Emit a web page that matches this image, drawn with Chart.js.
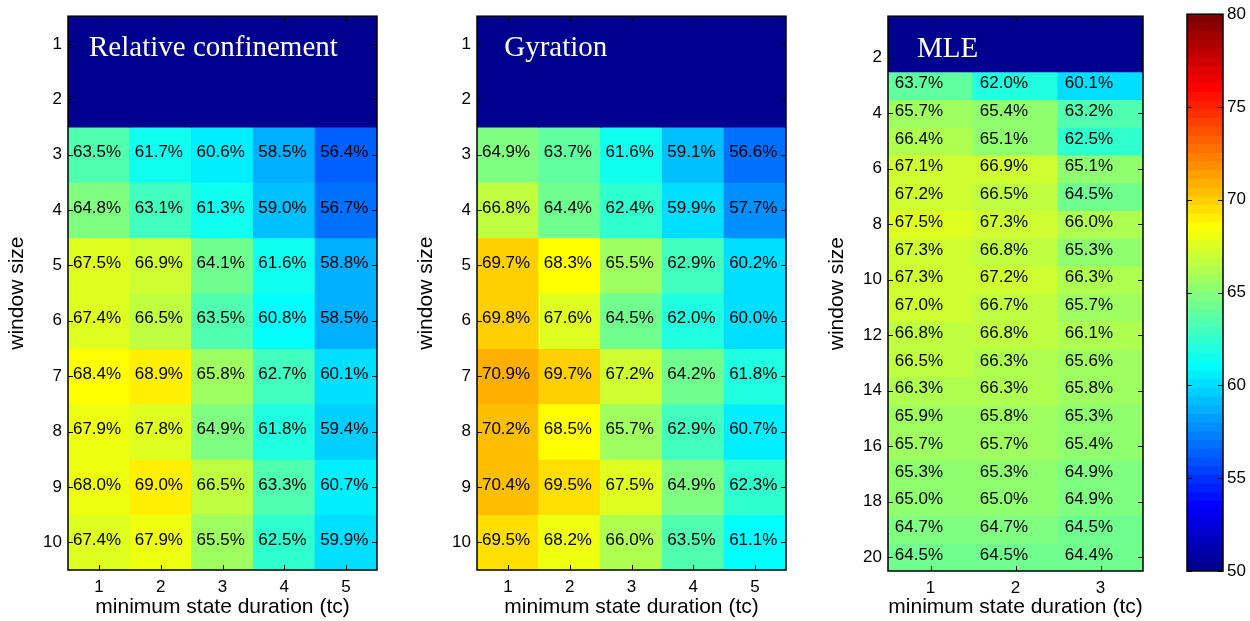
<!DOCTYPE html>
<html>
<head>
<meta charset="utf-8">
<title>window size vs minimum state duration</title>
<script src="https://cdn.jsdelivr.net/npm/chart.js@4/dist/chart.umd.min.js"></script>
<style>
  body { margin: 0; background: #fff; width: 1250px; height: 621px; position: relative; overflow: hidden; }
  .panel { position: absolute; top: 0; height: 621px; }
</style>
</head>
<body>
<div class="panel" style="left:0px;width:400px"><canvas id="rc-chart"></canvas></div>
<div class="panel" style="left:409px;width:400px"><canvas id="gyr-chart"></canvas></div>
<div class="panel" style="left:820px;width:343px"><canvas id="mle-chart"></canvas></div>
<div class="panel" style="left:1150px;width:100px"><canvas id="colorbar"></canvas></div>
<script>
/* Data: rows = window size, columns = minimum state duration (tc) */
let rcColumns = ['1', '2', '3', '4', '5']
let rcRows = [1, 2, 3, 4, 5, 6, 7, 8, 9, 10]
let rcValues = [
    [null, null, null, null, null],
    [null, null, null, null, null],
    [63.5, 61.7, 60.6, 58.5, 56.4],
    [64.8, 63.1, 61.3, 59.0, 56.7],
    [67.5, 66.9, 64.1, 61.6, 58.8],
    [67.4, 66.5, 63.5, 60.8, 58.5],
    [68.4, 68.9, 65.8, 62.7, 60.1],
    [67.9, 67.8, 64.9, 61.8, 59.4],
    [68.0, 69.0, 66.5, 63.3, 60.7],
    [67.4, 67.9, 65.5, 62.5, 59.9]
]

let gyrColumns = ['1', '2', '3', '4', '5']
let gyrRows = [1, 2, 3, 4, 5, 6, 7, 8, 9, 10]
let gyrValues = [
    [null, null, null, null, null],
    [null, null, null, null, null],
    [64.9, 63.7, 61.6, 59.1, 56.6],
    [66.8, 64.4, 62.4, 59.9, 57.7],
    [69.7, 68.3, 65.5, 62.9, 60.2],
    [69.8, 67.6, 64.5, 62.0, 60.0],
    [70.9, 69.7, 67.2, 64.2, 61.8],
    [70.2, 68.5, 65.7, 62.9, 60.7],
    [70.4, 69.5, 67.5, 64.9, 62.3],
    [69.5, 68.2, 66.0, 63.5, 61.1]
]

let mleColumns = ['1', '2', '3']
let mleRows = [1, 2, 3, 4, 5, 6, 7, 8, 9, 10, 11, 12, 13, 14, 15, 16, 17, 18, 19, 20]
let mleValues = [
    [null, null, null],
    [null, null, null],
    [63.7, 62.0, 60.1],
    [65.7, 65.4, 63.2],
    [66.4, 65.1, 62.5],
    [67.1, 66.9, 65.1],
    [67.2, 66.5, 64.5],
    [67.5, 67.3, 66.0],
    [67.3, 66.8, 65.3],
    [67.3, 67.2, 66.3],
    [67.0, 66.7, 65.7],
    [66.8, 66.8, 66.1],
    [66.5, 66.3, 65.6],
    [66.3, 66.3, 65.8],
    [65.9, 65.8, 65.3],
    [65.7, 65.7, 65.4],
    [65.3, 65.3, 64.9],
    [65.0, 65.0, 64.9],
    [64.7, 64.7, 64.5],
    [64.5, 64.5, 64.4]
]

// tick labels
let rcTicks = [1, 2, 3, 4, 5, 6, 7, 8, 9, 10]
let mleTicks = [2, 4, 6, 8, 10, 12, 14, 16, 18, 20]
let colorbarTicks = [50, 55, 60, 65, 70, 75, 80]

// colour limits of the map
let cMin = 50
let cMax = 80
let cLevels = 64

let sansFont = "'Liberation Sans', Arial, Helvetica, sans-serif"
let serifFont = "'Liberation Serif', 'Times New Roman', serif"

Chart.defaults.animation = false
Chart.defaults.events = []
Chart.defaults.plugins.legend.display = false
Chart.defaults.plugins.tooltip.enabled = false

// matlab jet colormap, 64 levels
function jetColor(value) {
    let i = 1
    if (value != null) {
        i = Math.floor(cLevels * (value - cMin) / (cMax - cMin)) + 1
        i = Math.min(cLevels, Math.max(1, i))
    }
    let ramp = (a, b) => Math.max(0, Math.min(1, (i - a) / 16, (b - i) / 16))
    let r = Math.round(255 * ramp(24, 72))
    let g = Math.round(255 * ramp(8, 56))
    let b = Math.round(255 * ramp(-8, 40))
    return 'rgb(' + r + ',' + g + ',' + b + ')'
}

// box round the plot with small ticks pointing inwards
let matlabBox = {
    id: 'matlabBox',
    afterDraw(chart) {
        let ctx = chart.ctx
        let a = chart.chartArea
        let xs = chart.scales.x
        let ys = chart.scales.y
        let len = 5
        ctx.save()
        ctx.strokeStyle = '#000'
        ctx.lineWidth = 1
        ctx.beginPath()
        ys.ticks.forEach(t => {
            let y = Math.round(ys.getPixelForValue(t.value)) + 0.5
            ctx.moveTo(a.left, y); ctx.lineTo(a.left + len, y)
            ctx.moveTo(a.right, y); ctx.lineTo(a.right - len, y)
        })
        if (xs.options.display) {
            xs.ticks.forEach((t, i) => {
                let x = Math.round(xs.getPixelForTick(i)) + 0.5
                ctx.moveTo(x, a.top); ctx.lineTo(x, a.top + len)
                ctx.moveTo(x, a.bottom); ctx.lineTo(x, a.bottom - len)
            })
        }
        ctx.stroke()
        ctx.lineWidth = 1.5
        ctx.strokeRect(a.left, a.top, a.right - a.left, a.bottom - a.top)
        ctx.restore()
    }
}

// percentage in every cell and the panel name
let cellLabels = {
    id: 'cellLabels',
    afterDatasetsDraw(chart, args, opts) {
        let ctx = chart.ctx
        let xs = chart.scales.x
        let ys = chart.scales.y
        ctx.save()
        ctx.fillStyle = '#000'
        ctx.font = '17px ' + sansFont
        ctx.textAlign = 'left'
        ctx.textBaseline = 'middle'
        opts.values.forEach((rowValues, r) => {
            rowValues.forEach((v, c) => {
                if (v == null) return
                let x = xs.getPixelForValue(c - 0.42)
                let y = ys.getPixelForValue(opts.rows[r]) - 2
                ctx.fillText(v.toFixed(1) + '%', x, y)
            })
        })
        ctx.fillStyle = '#fff'
        ctx.font = '29px ' + serifFont
        ctx.textBaseline = 'alphabetic'
        ctx.fillText(opts.title, xs.getPixelForValue(opts.titleX), ys.getPixelForValue(opts.titleY))
        ctx.restore()
    }
}

function makeHeatmap(canvasId, columns, rows, values, yTicks, title, titleX, titleY, rightPad, xHeight) {
    let datasets = rows.map((row, r) => ({
        data: columns.map(() => [row - 0.5, row + 0.5]),
        backgroundColor: values[r].map(jetColor),
        grouped: false,
        barPercentage: 1,
        categoryPercentage: 1,
        borderWidth: 0,
        inflateAmount: 0.5
    }))

    return new Chart(document.getElementById(canvasId), {
        type: 'bar',
        data: { labels: columns, datasets: datasets },
        plugins: [cellLabels, matlabBox],
        options: {
            responsive: true,
            maintainAspectRatio: false,
            devicePixelRatio: 1,
            layout: { padding: { left: 0, top: 14, right: rightPad, bottom: 0 } },
            plugins: {
                cellLabels: { values: values, rows: rows, title: title, titleX: titleX, titleY: titleY }
            },
            scales: {
                x: {
                    grid: { display: false, drawTicks: false },
                    border: { display: false },
                    ticks: { color: '#000', font: { family: sansFont, size: 17 }, padding: 7, maxRotation: 0 },
                    title: {
                        display: true, text: 'minimum state duration (tc)', color: '#000',
                        font: { family: sansFont, size: 21 }, padding: { top: 0, bottom: 1 }
                    },
                    afterFit: s => { s.height = xHeight }
                },
                y: {
                    type: 'linear',
                    reverse: true,
                    min: 0.5,
                    max: rows.length + 0.5,
                    afterBuildTicks: s => { s.ticks = yTicks.map(v => ({ value: v })) },
                    grid: { display: false, drawTicks: false },
                    border: { display: false },
                    ticks: { color: '#000', font: { family: sansFont, size: 17 }, padding: 6, autoSkip: false },
                    title: {
                        display: true, text: 'window size', color: '#000',
                        font: { family: sansFont, size: 21 }, padding: { top: 5, bottom: 0 }
                    },
                    afterFit: s => { s.width = 68 }
                }
            }
        }
    })
}

let rcChart = makeHeatmap('rc-chart', rcColumns, rcRows, rcValues, rcTicks, 'Relative confinement', -0.16, 1.22, 23, 51)
let gyrChart = makeHeatmap('gyr-chart', gyrColumns, gyrRows, gyrValues, rcTicks, 'Gyration', -0.06, 1.22, 23, 51)
let mleChart = makeHeatmap('mle-chart', mleColumns, mleRows, mleValues, mleTicks, 'MLE', -0.16, 1.97, 20, 50)

// colour bar: one thin floating bar for each level of the colormap
let levelSize = (cMax - cMin) / cLevels
let colorbarSets = []
for (let i = 0; i < cLevels; i++) {
    let lo = cMin + i * levelSize
    colorbarSets.push({
        data: [[lo, lo + levelSize]],
        backgroundColor: jetColor(lo + levelSize / 2),
        grouped: false,
        barPercentage: 1,
        categoryPercentage: 1,
        borderWidth: 0,
        inflateAmount: 0.5
    })
}

let colorbarChart = new Chart(document.getElementById('colorbar'), {
    type: 'bar',
    data: { labels: [''], datasets: colorbarSets },
    plugins: [matlabBox],
    options: {
        responsive: true,
        maintainAspectRatio: false,
        devicePixelRatio: 1,
        layout: { padding: { left: 37, top: 14, right: 0, bottom: 50 } },
        scales: {
            x: { display: false },
            y: {
                position: 'right',
                min: cMin,
                max: cMax,
                afterBuildTicks: s => { s.ticks = colorbarTicks.map(v => ({ value: v })) },
                grid: { display: false, drawTicks: false },
                border: { display: false },
                ticks: { color: '#000', font: { family: sansFont, size: 17 }, padding: 4, autoSkip: false },
                afterFit: s => { s.width = 27 }
            }
        }
    }
})
</script>
</body>
</html>
